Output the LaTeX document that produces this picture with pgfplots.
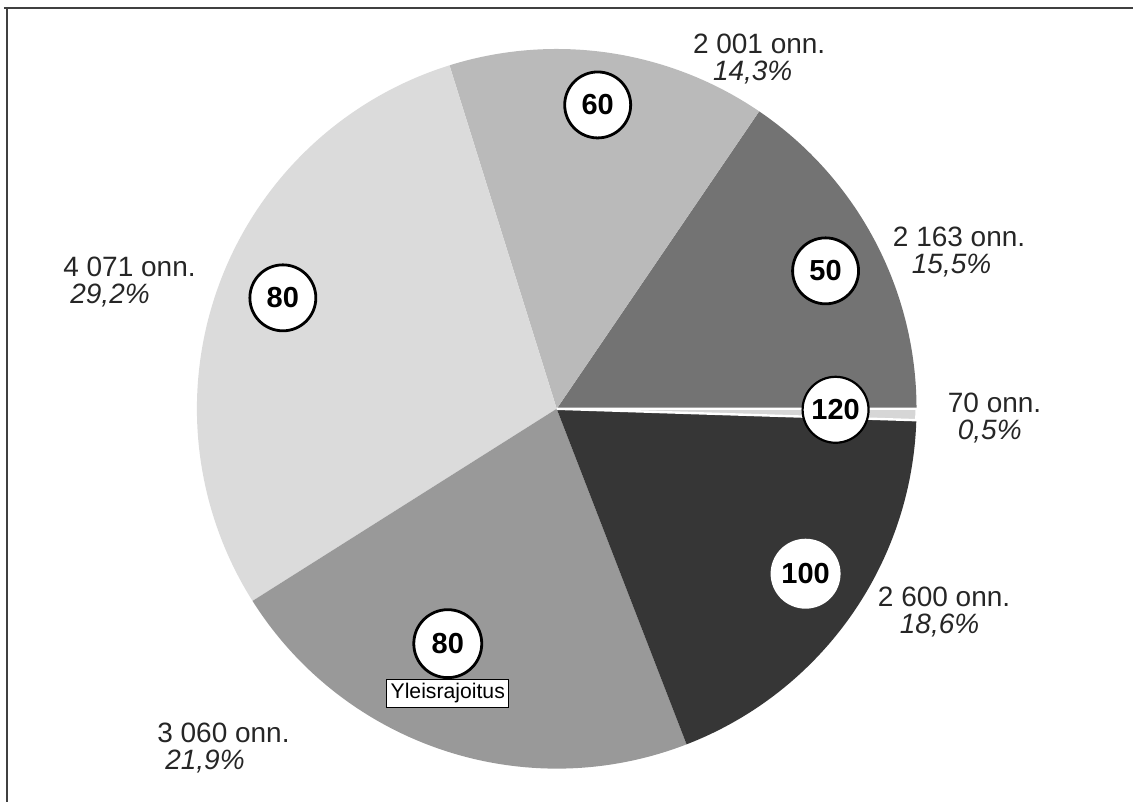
\documentclass[border=0pt]{standalone}
\usepackage{pgfplots}
\pgfplotsset{compat=1.18}
\usepackage{fontspec}
\setmainfont{Liberation Sans}
\definecolor{cA}{gray}{0.45}  % 50
\definecolor{cB}{gray}{0.73}  % 60
\definecolor{cC}{gray}{0.86}  % 80
\definecolor{cD}{gray}{0.60}  % 80 Yleisrajoitus
\definecolor{cE}{gray}{0.21}  % 100
\definecolor{cF}{gray}{0.84}  % 120
% data (onn.)
\def\vA{2163}\def\vB{2001}\def\vC{4071}\def\vD{3060}\def\vE{2600}\def\vF{70}
\pgfmathsetmacro\tot{\vA+\vB+\vC+\vD+\vE+\vF}
\pgfmathsetmacro\aA{0}
\pgfmathsetmacro\aB{\aA+\vA/\tot*360}
\pgfmathsetmacro\aC{\aB+\vB/\tot*360}
\pgfmathsetmacro\aD{\aC+\vC/\tot*360}
\pgfmathsetmacro\aE{\aD+\vD/\tot*360}
\pgfmathsetmacro\aF{\aE+\vE/\tot*360}
\pgfmathsetmacro\aG{360}
\newcommand\pieslice[3]{\fill[#3] (axis cs:557,409) -- ([shift={(#1:180pt)}]axis cs:557,409) arc[start angle=#1, end angle=#2, radius=180pt] -- cycle;}
\begin{document}
\begin{tikzpicture}
\begin{axis}[width=567pt,height=401pt,scale only axis,
  xmin=0,xmax=1134,ymin=0,ymax=802,y dir=reverse,hide axis,clip=false]
\path (axis cs:0,0) rectangle (axis cs:1134,802);
\draw[line width=0.6pt,black!75] (axis cs:4,8) -- (axis cs:1134,8);
\draw[line width=0.6pt,black!75] (axis cs:7,8) -- (axis cs:7,802);
\pieslice{\aA}{\aB}{cA}
\pieslice{\aB}{\aC}{cB}
\pieslice{\aC}{\aD}{cC}
\pieslice{\aD}{\aE}{cD}
\pieslice{\aE}{\aF}{cE}
\filldraw[cF,draw=white,line width=1.2pt] (axis cs:557,409) -- ([shift={(\aF:180pt)}]axis cs:557,409) arc[start angle=\aF, end angle=\aG, radius=180pt] -- cycle;
% circled speed limits
\tikzset{lim/.style={circle,fill=white,draw=black,line width=1.4pt,minimum size=33pt,inner sep=0pt,font=\fontsize{14.5}{16}\selectfont\bfseries}}
\node[lim] at (axis cs:598,105) {60};
\node[lim] at (axis cs:826,271) {50};
\node[lim] at (axis cs:283,298) {80};
\node[lim,line width=1.1pt] at (axis cs:836,410) {120};
\node[lim,draw=none,minimum size=35pt] at (axis cs:806,574) {100};
\node[lim,minimum size=34pt] at (axis cs:448,644) {80};
\node[draw=black,fill=white,line width=0.6pt,inner xsep=2pt,inner ysep=2.2pt,anchor=north,font=\fontsize{10.6}{12}\selectfont] at (axis cs:448,679) {Yleisrajoitus};
% outer labels
\tikzset{lab/.style={anchor=north west,inner sep=0pt,align=left,font=\fontsize{14}{13.4}\selectfont,text=black!85}}
\node[lab] at (axis cs:693,34) {2 001 onn.\\\hspace*{10pt}\textit{14,3\%}};
\node[lab] at (axis cs:893,227) {2 163 onn.\\\hspace*{9.5pt}\textit{15,5\%}};
\node[lab] at (axis cs:63,257) {4 071 onn.\\\hspace*{3.5pt}\textit{29,2\%}};
\node[lab] at (axis cs:948,393) {70 onn.\\\hspace*{5pt}\textit{0,5\%}};
\node[lab] at (axis cs:878,587) {2 600 onn.\\\hspace*{11pt}\textit{18,6\%}};
\node[lab] at (axis cs:157,723) {3 060 onn.\\\hspace*{4pt}\textit{21,9\%}};
\end{axis}
\end{tikzpicture}
\end{document}
